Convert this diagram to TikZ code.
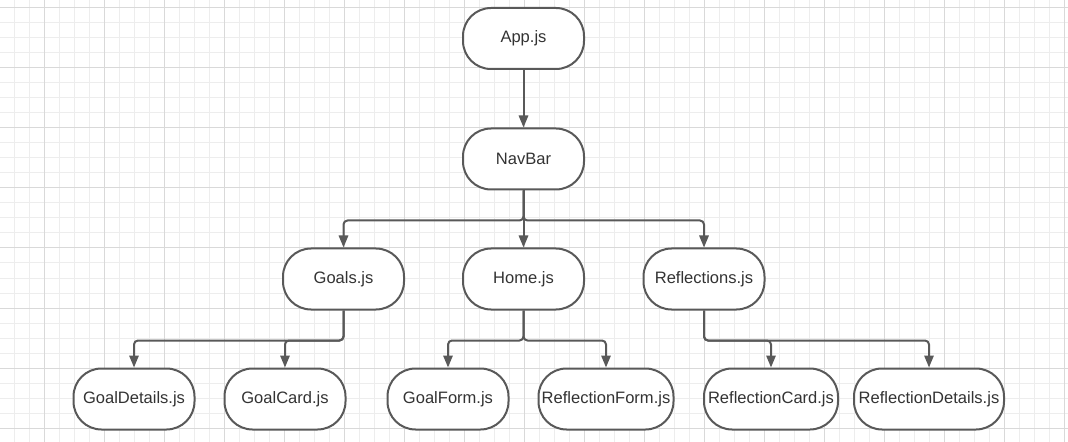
\documentclass[tikz,border=0pt]{standalone}
\usepackage{fontspec}
\setmainfont{Liberation Sans}
\usetikzlibrary{arrows.meta}

\definecolor{linegray}{HTML}{595959}
\definecolor{textgray}{HTML}{333333}
\definecolor{gridminor}{HTML}{EDEDED}
\definecolor{gridmajor}{HTML}{D9D9D9}

\tikzset{
  comp/.style={draw=linegray, fill=white, line width=1.5pt, rounded corners=21pt,
    minimum width=90.75pt, minimum height=45.75pt, inner sep=1pt,
    text=textgray, font=\fontsize{12.4}{14}\selectfont},
  link/.style={->, draw=linegray, line width=1.5pt, rounded corners=3pt}
}

\begin{document}
\begin{tikzpicture}[x=0.75pt,y=-0.75pt,>={Triangle[length=9pt,width=7pt]}]
    % grid paper
    \useasboundingbox (0,0) rectangle (1068,442);
    \fill[white] (0,0) rectangle (1068,442);
    \foreach \x in {14,29,...,1064} \draw[gridminor,line width=0.75pt] (\x,0) -- (\x,442);
    \foreach \y in {8,23,...,440} \draw[gridminor,line width=0.75pt] (0,\y) -- (1068,\y);
    \foreach \x in {44,104,...,1064} \draw[gridmajor,line width=0.75pt] (\x,0) -- (\x,442);
    \foreach \y in {8,68,...,440} \draw[gridmajor,line width=0.75pt] (0,\y) -- (1068,\y);

    \node[comp] (app)      at (523.5,38.5) {App.js};
    \node[comp] (navbar)   at (523.5,159)  {NavBar};
    \node[comp] (goals)    at (343.5,279)  {Goals.js};
    \node[comp] (home)     at (523.5,279)  {Home.js};
    \node[comp] (reflect)  at (704,279)    {Reflections.js};

    \node[comp]                       (goaldet)  at (134,399) {GoalDetails.js};
    \node[comp]                       (goalcard) at (285,399) {GoalCard.js};
    \node[comp]                       (goalform) at (448,399) {GoalForm.js};
    \node[comp,minimum width=101.25pt] (refform)  at (606,399) {ReflectionForm.js};
    \node[comp,minimum width=100.5pt]  (refcard)  at (771,399) {ReflectionCard.js};
    \node[comp,minimum width=112.5pt]  (refdet)   at (929,399) {ReflectionDetails.js};

    \draw[link] (app) -- (navbar);
    \draw[link] (navbar.south) -- ++(0,30) -| (goals.north);
    \draw[link] (navbar) -- (home);
    \draw[link] (navbar.south) -- ++(0,30) -| (reflect.north);

    \draw[link] (goals.south) -- ++(0,30) -| (goaldet.north);
    \draw[link] (goals.south) -- ++(0,30) -| (goalcard.north);
    \draw[link] (home.south) -- ++(0,30) -| (goalform.north);
    \draw[link] (home.south) -- ++(0,30) -| (refform.north);
    \draw[link] (reflect.south) -- ++(0,30) -| (refcard.north);
    \draw[link] (reflect.south) -- ++(0,30) -| (refdet.north);

  \end{tikzpicture}
\end{document}
